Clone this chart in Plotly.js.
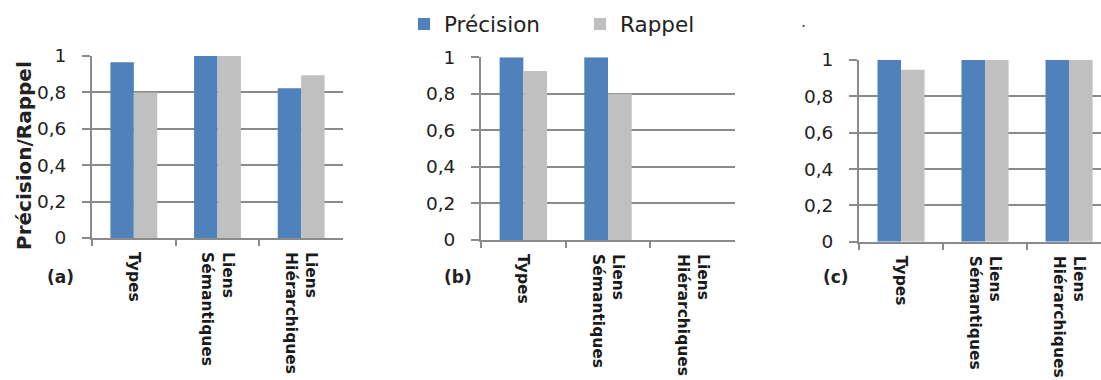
<!DOCTYPE html>
<html>
<head>
<meta charset="utf-8">
<script src="https://cdn.plot.ly/plotly-3.0.1.min.js"></script>
<style>
html, body { margin: 0; padding: 0; overflow: hidden; background: #fff; }
#chart { width: 1101px; height: 380px; }
</style>
</head>
<body>
<div id="chart"></div>
<script>
// ---- data ----
const categories = ["Types", "Liens<br>Sémantiques", "Liens<br>Hiérarchiques"];
const seriesNames = ["Précision", "Rappel"];
const precisionA = [0.965, 1.0, 0.823];
const rappelA    = [0.80, 1.0, 0.894];
const precisionB = [1.0, 1.0, 0];
const rappelB    = [0.925, 0.80, 0];
const precisionC = [1.0, 1.0, 1.0];
const rappelC    = [0.947, 1.0, 1.0];
const yTickVals = [0, 0.2, 0.4, 0.6, 0.8, 1];
const yTickText = ["0", "0,2", "0,4", "0,6", "0,8", "1"];
const panelLabels = ["(a)", "(b)", "(c)"];
const yTitle = "Précision/Rappel";

// ---- style ----
const BLUE = "#4F81BD", GREY = "#C0C0C0", GRID = "#8a8a8a";
const W = 1101, H = 380;
const px = v => v / W;
const py = v => (H - v) / H;

const panels = [
  {p: precisionA, r: rappelA},
  {p: precisionB, r: rappelB},
  {p: precisionC, r: rappelC}
];
const traces = [];
panels.forEach((pn, i) => {
  const xa = i === 0 ? "x" : "x" + (i + 1);
  const ya = i === 0 ? "y" : "y" + (i + 1);
  traces.push({type: "bar", x: categories, y: pn.p, name: seriesNames[0], legendgroup: "p",
    showlegend: i === 0, marker: {color: BLUE}, xaxis: xa, yaxis: ya, hoverinfo: "skip"});
  traces.push({type: "bar", x: categories, y: pn.r, name: seriesNames[1], legendgroup: "r",
    showlegend: i === 0, marker: {color: GREY}, xaxis: xa, yaxis: ya, hoverinfo: "skip"});
});

function xAxis(dom, range) {
  return {
    domain: dom, type: "category", range: range,
    showgrid: false, zeroline: false,
    showline: true, linecolor: GRID, linewidth: 2,
    ticks: "outside", tickson: "boundaries", ticklen: 6, tickwidth: 2, tickcolor: GRID,
    tickangle: 90, ticklabelstandoff: 9,
    tickfont: {family: "DejaVu Sans", size: 15.5, color: "#1a1a1a", weight: "bold"},
    fixedrange: true
  };
}
function yAxis(dom, anchor) {
  return {
    domain: dom, anchor: anchor, range: [0, 1],
    tickvals: yTickVals, ticktext: yTickText,
    showgrid: true, gridcolor: GRID, gridwidth: 2,
    zeroline: false, showline: true, linecolor: GRID, linewidth: 2,
    ticks: "outside", ticklen: 8, tickwidth: 2, tickcolor: GRID,
    ticklabelstandoff: 12,
    tickfont: {family: "DejaVu Sans", size: 18.5, color: "#222"},
    fixedrange: true
  };
}

const annFont = {family: "DejaVu Sans", size: 17, color: "#222", weight: "bold"};
const layout = {
  width: W, height: H,
  margin: {l: 0, r: 0, t: 0, b: 0},
  paper_bgcolor: "#fff", plot_bgcolor: "#fff",
  barmode: "group", bargap: 0.44, bargroupgap: 0,
  showlegend: true,
  legend: {
    orientation: "h", x: px(404), xanchor: "left", y: py(24), yanchor: "middle",
    entrywidth: 131,
    font: {family: "DejaVu Sans", size: 21.5, color: "#222"},
    bgcolor: "rgba(0,0,0,0)"
  },
  xaxis: Object.assign(xAxis([px(92), px(343)], [-0.5, 2.5]), {anchor: "y"}),
  yaxis: yAxis([py(238), py(56)], "x"),
  xaxis2: Object.assign(xAxis([px(481), px(735)], [-0.5, 2.5]), {anchor: "y2"}),
  yaxis2: yAxis([py(240), py(57.3)], "x2"),
  xaxis3: Object.assign(xAxis([px(859), 1], [-0.5, 2.38]), {anchor: "y3"}),
  yaxis3: yAxis([py(241.7), py(60)], "x3"),
  annotations: [
    {text: yTitle, xref: "paper", yref: "paper", x: px(24), y: py(156),
     textangle: -90, showarrow: false, xanchor: "center", yanchor: "middle",
     font: {family: "DejaVu Sans", size: 20, color: "#222", weight: "bold"}},
    {text: panelLabels[0], xref: "paper", yref: "paper", x: px(60), y: py(277),
     xanchor: "center", yanchor: "middle", showarrow: false, font: annFont},
    {text: panelLabels[1], xref: "paper", yref: "paper", x: px(458), y: py(277),
     xanchor: "center", yanchor: "middle", showarrow: false, font: annFont},
    {text: panelLabels[2], xref: "paper", yref: "paper", x: px(836), y: py(277),
     xanchor: "center", yanchor: "middle", showarrow: false, font: annFont},
    {text: ".", xref: "paper", yref: "paper", x: px(803), y: py(22),
     xanchor: "center", yanchor: "middle",
     showarrow: false, font: {family: "DejaVu Sans", size: 16, color: "#335"}}
  ]
};

Plotly.newPlot("chart", traces, layout, {displayModeBar: false, staticPlot: true});
</script>
</body>
</html>
